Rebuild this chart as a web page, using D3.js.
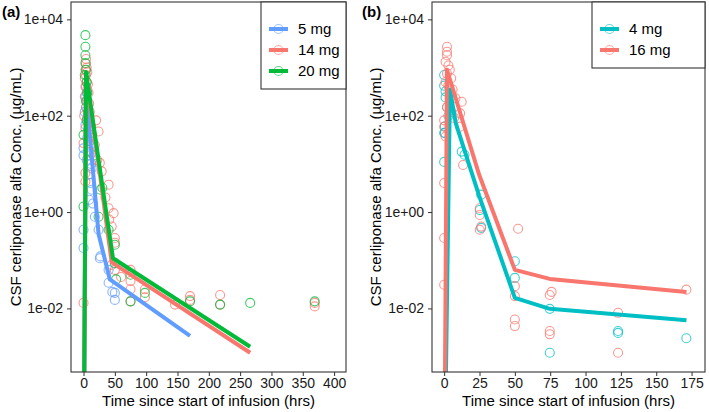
<!DOCTYPE html>
<html><head><meta charset="utf-8">
<script src="https://cdn.jsdelivr.net/npm/d3@7"></script>
<style>body{margin:0;background:#fff} svg{display:block} text{font-family:"Liberation Sans",Arial,sans-serif}</style>
</head><body><svg id="c" width="709" height="412"></svg>
<script>
// ---------- DATA ----------
const yTickValues = [1e-2, 1, 1e2, 1e4];
const yTickLabels = ["1e-02", "1e+00", "1e+02", "1e+04"];
const xTicksA = [0, 50, 100, 150, 200, 250, 300, 350, 400];
const xTicksB = [0, 25, 50, 75, 100, 125, 150, 175];
const doseLabelsA = ["5 mg", "14 mg", "20 mg"];
const doseLabelsB = ["4 mg", "16 mg"];
const xTitle = "Time since start of infusion (hrs)";
const yTitle = "CSF cerliponase alfa Conc. (µg/mL)";

// panel (a) observations [time, conc]
const obsA_5mg = [[4,400],[5,300],[3,250],[6,200],[4,150],[2,120],[7,100],[5,80],[3,65],[8,50],[0,21],[0,15],[6,35],[10,25],[13,8],[13,2.9],[5,12],[8,6],[11,4],[0,0.43],[0,0.18],[24,0.43],[27,0.12],[26,0.11],[40,0.063],[40,0.034],[50,0.021],[50,0.015],[46,0.022],[15,1.5],[18,0.8],[9,1.8],[10,15],[12,10]];
const obsA_14mg = [[4,1500],[4,1200],[5,1000],[3,900],[6,800],[4,700],[2,600],[5,500],[7,450],[3,400],[6,350],[8,300],[2,250],[5,200],[9,180],[4,150],[10,120],[1,100],[6,90],[8,75],[12,60],[3,55],[14,40],[7,30],[0,27],[18,25],[10,18],[3,6.5],[3,4.3],[26,10.5],[29,7],[22,12],[40,3.7],[40,1.2],[41,0.7],[48,0.95],[50,0.29],[50,0.23],[35,2],[45,0.5],[0,0.013],[50,0.063],[75,0.063],[75,0.037],[75,0.025],[75,0.014],[98,0.025],[98,0.017],[146,0.012],[170,0.018],[170,0.015],[218,0.019],[218,0.012],[369,0.011],[369,0.013],[45,0.08],[60,0.045],[24,47],[20,80]];
const obsA_20mg = [[3,4700],[3,2700],[3,1800],[3,1240],[4,900],[2,700],[5,500],[6,300],[4,200],[7,120],[5,80],[8,50],[10,30],[0,1.3],[27,2.9],[24,0.8],[30,3.2],[40,0.43],[50,0.21],[50,0.087],[52,0.04],[75,0.05],[75,0.014],[98,0.021],[170,0.014],[218,0.012],[266,0.013],[369,0.014],[0,40],[16,15]];
// panel (a) model predictions
const predA_5mg = [[0,1e-6],[4,400],[10,40],[24,0.35],[42,0.04],[170,0.0027]];
const predA_14mg = [[0,1e-6],[4,600],[24,10],[45,0.09],[266,0.0012]];
const predA_20mg = [[0,1e-6],[4,800],[24,12],[47,0.11],[266,0.0016]];

// panel (b) observations
const obsB_4mg = [[0,700],[0,420],[1,320],[1,240],[0,44],[0.5,44],[0,11],[12.4,18],[14.4,15.5],[26.2,2.3],[25.2,1.1],[26.2,0.47],[50,0.095],[50,0.043],[74.7,0.0098],[74.7,0.0012],[123,0.0034],[123,0.0031],[171.3,0.0024],[2,150],[3,100],[0.5,60]];
const obsB_16mg = [[2,2700],[2,2130],[2,1800],[1,1320],[3,1100],[4,900],[2,750],[5,600],[1,500],[3,420],[6,350],[4,280],[8,230],[12.4,195],[11.3,112],[2,150],[5,120],[0,80],[7,90],[0,59],[1,37],[11.3,59],[13.4,9.5],[0,4],[0,0.29],[0,0.031],[25.2,1.2],[25.2,0.87],[26.2,0.5],[25.2,0.43],[52.3,0.45],[50,0.029],[50,0.018],[50,0.0059],[50,0.0043],[76,0.022],[74.7,0.019],[74.7,0.0034],[74.7,0.0029],[123,0.0081],[123,0.0012],[171.3,0.0245]];
// panel (b) model predictions
const predB_4mg = [[0,1e-6],[4.1,350],[8.2,70],[24.7,2.2],[50,0.0166],[74.7,0.0098],[171.4,0.0057]];
const predB_16mg = [[0,1e-6],[2,900],[24.7,6],[50,0.063],[74.7,0.041],[171.4,0.022]];

const colorsA = ["#619CFF", "#F8766D", "#00BA38"];
const colorsB = ["#00BFC4", "#F8766D"];

// ---------- DRAW ----------
const svg = d3.select("#c");
const plotTop = 2, plotBottom = 372;
const yDomain = [Math.pow(10, -3.32), Math.pow(10, 4.36)];

function drawPanel(cfg) {
  const g = svg.append("g");
  const x = d3.scaleLinear().domain(cfg.xDomain).range([cfg.left, cfg.right]);
  const y = d3.scaleLog().domain(yDomain).range([plotBottom, plotTop]);
  const cid = "clip" + cfg.id;
  svg.append("defs").append("clipPath").attr("id", cid)
    .append("rect").attr("x", cfg.left).attr("y", plotTop)
    .attr("width", cfg.right - cfg.left).attr("height", plotBottom - plotTop);
  const plot = g.append("g").attr("clip-path", `url(#${cid})`);

  cfg.obs.forEach((s, i) => {
    plot.append("g").selectAll("circle").data(s).join("circle")
      .attr("cx", d => x(d[0])).attr("cy", d => y(d[1])).attr("r", 4.5)
      .attr("fill", "none").attr("stroke", cfg.colors[i])
      .attr("stroke-width", 1.1).attr("stroke-opacity", 0.75);
  });
  const line = d3.line().x(d => x(d[0])).y(d => y(d[1]));
  cfg.pred.forEach((s, i) => {
    plot.append("path").datum(s).attr("d", line)
      .attr("fill", "none").attr("stroke", cfg.colors[i])
      .attr("stroke-width", 4).attr("stroke-linejoin", "round");
  });

  // axes
  const ax = g.append("g").attr("transform", `translate(0,${plotBottom})`)
    .call(d3.axisBottom(x).tickValues(cfg.xTicks).tickSize(4).tickPadding(2).tickFormat(d3.format("d")));
  const ay = g.append("g").attr("transform", `translate(${cfg.left},0)`)
    .call(d3.axisLeft(y).tickValues(yTickValues).tickSize(4).tickPadding(4)
      .tickFormat((d, i) => yTickLabels[i]));
  [ax, ay].forEach(a => {
    a.select(".domain").remove();
    a.selectAll("line").attr("stroke", "#333");
    a.selectAll("text").attr("font-size", 14).attr("fill", "#1a1a1a")
      .attr("font-family", "'Liberation Sans', Arial, sans-serif");
  });

  // border
  g.append("rect").attr("x", cfg.left).attr("y", plotTop)
    .attr("width", cfg.right - cfg.left).attr("height", plotBottom - plotTop)
    .attr("fill", "none").attr("stroke", "#333").attr("stroke-width", 1.1);

  // titles
  g.append("text").attr("x", (cfg.left + cfg.right) / 2).attr("y", 406)
    .attr("text-anchor", "middle").attr("font-size", 15).attr("fill", "#000").text(xTitle);
  g.append("text").attr("transform", `translate(${cfg.ytX},187) rotate(-90)`)
    .attr("text-anchor", "middle").attr("font-size", 15).attr("fill", "#000").text(yTitle);
  g.append("text").attr("x", cfg.tagX).attr("y", 17).attr("font-size", 15)
    .attr("font-weight", "bold").attr("fill", "#000").text(cfg.tag);

  // legend
  const lw = cfg.right - cfg.legX;
  const lh = 27 + (cfg.labels.length - 1) * 21 + 18;
  const lg = g.append("g");
  lg.append("rect").attr("x", cfg.legX).attr("y", plotTop).attr("width", lw).attr("height", lh)
    .attr("fill", "#fff").attr("stroke", "#333").attr("stroke-width", 1.1);
  cfg.labels.forEach((lab, i) => {
    const cy = plotTop + 27 + i * 21;
    lg.append("circle").attr("cx", cfg.legX + 17.5).attr("cy", cy).attr("r", 4.5)
      .attr("fill", "none").attr("stroke", cfg.colors[i]).attr("stroke-width", 1.1).attr("stroke-opacity", 0.6);
    lg.append("line").attr("x1", cfg.legX + 8).attr("x2", cfg.legX + 27)
      .attr("y1", cy).attr("y2", cy).attr("stroke", cfg.colors[i]).attr("stroke-width", 4);
    lg.append("text").attr("x", cfg.legX + 37).attr("y", cy + 5).attr("font-size", 15)
      .attr("fill", "#000").text(lab);
  });
}

drawPanel({id: "a", left: 71, right: 346, xDomain: [-20, 419], xTicks: xTicksA,
  obs: [obsA_5mg, obsA_14mg, obsA_20mg], pred: [predA_5mg, predA_14mg, predA_20mg],
  colors: colorsA, labels: doseLabelsA, legX: 261, ytX: 20.5, tagX: 2, tag: "(a)"});
drawPanel({id: "b", left: 432, right: 705, xDomain: [-8.6, 184.5], xTicks: xTicksB,
  obs: [obsB_4mg, obsB_16mg], pred: [predB_4mg, predB_16mg],
  colors: colorsB, labels: doseLabelsB, legX: 592, ytX: 380.5, tagX: 362, tag: "(b)"});
</script></body></html>
